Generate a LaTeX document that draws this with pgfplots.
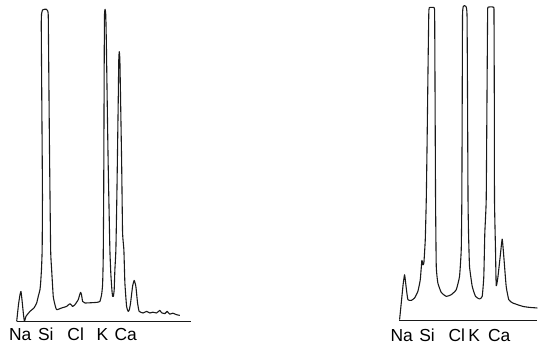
\documentclass[border=0pt]{standalone}
\usepackage{pgfplots}
\pgfplotsset{compat=1.18}
\usepackage{fontspec}
\setmainfont{Liberation Sans}
\begin{document}
\begin{tikzpicture}
\begin{axis}[
  scale only axis, width=538bp, height=345bp,
  xmin=0, xmax=538, ymin=0, ymax=345,
  hide axis, clip=false,
  every axis plot/.append style={line width=1.1pt, black!90, line join=round},
]
% frame for bounding box
\addplot[draw=none] coordinates {(0,0) (538,345)};
% left spectrum baseline
\addplot[line width=0.9pt] coordinates {(16.7,23.3) (190.7,23.3)};
% left spectrum
\addplot[smooth, tension=0.25] coordinates {
(16.7,23.3) (18.5,40) (20,50) (21,53.3) (22,45) (23.5,30) (24.5,23.3) (26,28.3) (30,33.3) (34,36.7) (36.7,41.7) (38.3,48.3) (40,55) (40.7,62) (41.5,75) (42.2,95) (42.5,150) (41.8,250) (41.3,320) (41.6,331) (42.6,335) (44.5,335.7) (46.5,335.7) (47.8,334) (48.3,330) (48.6,300) (49.5,200) (50.7,95) (51.7,75) (53.3,48.3) (55,40) (56.7,35) (61.7,36.7) (66.7,38.3) (70,41) (72.7,38.3) (75,40) (78.3,45) (79.8,50) (80.7,52.3) (81.6,50) (82.7,43.3) (85,41.7) (96.7,42.3) (100,43.3) (101.7,50) (102.7,60) (103.3,85) (103.8,150) (104.3,280) (104.6,330) (105.2,335.7) (105.9,330) (106.5,300) (107.3,245) (108.3,180) (110,95) (111,70) (112,55) (112.7,48.3) (113.5,48.3) (114.3,55) (115,75) (116,95) (117,150) (118.3,240) (118.9,285) (119.4,293.3) (120,285) (120.8,240) (121.8,180) (122.7,112) (124,95) (125,62) (126.7,38.3) (128.3,33.3) (129.5,35) (130.7,41.7) (132.7,58.3) (134.3,64.3) (136,58.3) (137.7,41.7) (139.3,33.3) (143.3,31.7) (146.7,33.3) (150,31.7) (153,32.5) (156.7,31.7) (160,34.3) (161.7,32) (165,31) (167.3,33.3) (170,30.5) (173,31.5) (176.7,30) (180,29.3)
};
% right spectrum baseline
\addplot[line width=0.9pt] coordinates {(399.7,24) (538,24)};
% right spectrum
\addplot[smooth, tension=0.25] coordinates {
(400,25) (402,45) (403.5,60) (405,70) (406.5,58) (408.3,45) (411.7,44.3) (415,46.7) (418.3,53.3) (420.7,65) (422.3,84.3) (423.3,80) (424.3,81.7) (425.7,105) (426.7,145) (427.5,200) (428.5,280) (429.2,330) (429.7,337.3) (434.6,337.3) (435.1,330) (435.5,250) (436,145) (436.7,78.3) (438.3,61.7) (441.7,52.3) (446.7,48.3) (451.7,50) (456.7,55) (460,68.3) (461.7,95) (462.3,145) (462.7,250) (463,330) (463.8,338.8) (465,339.3) (466.5,338.5) (467.5,330) (468,250) (468.5,145) (469,112) (470,78.3) (472.7,58.3) (476,48.3) (480,45.7) (482.7,48.3) (484.3,68.3) (485.3,111.7) (486.7,145) (487.5,250) (488.1,330) (488.4,337.7) (494.2,337.7) (494.5,330) (494.8,250) (495,145) (496,95) (496.7,59) (498.3,66.7) (500.7,88.3) (502.7,105.7) (504.3,88.3) (506.7,58.3) (509.3,45) (513.3,41.7) (523.3,38.3) (530,37.3) (538,36.7)
};
% labels
\begin{scope}[every node/.style={anchor=base, inner sep=0pt, font=\fontsize{17.5}{19}\selectfont}]
\node at (axis cs:20.3,3.8) {Na};
\node at (axis cs:45.8,3.8) {Si};
\node at (axis cs:75.8,3.8) {Cl};
\node at (axis cs:102.5,3.8) {K};
\node at (axis cs:125.8,3.8) {Ca};
\node at (axis cs:402.2,3) {Na};
\node at (axis cs:427.5,3) {Si};
\node at (axis cs:457.2,3) {Cl};
\node at (axis cs:474.7,3) {K};
\node at (axis cs:499.7,3) {Ca};
\end{scope}
\end{axis}
\end{tikzpicture}
\end{document}
